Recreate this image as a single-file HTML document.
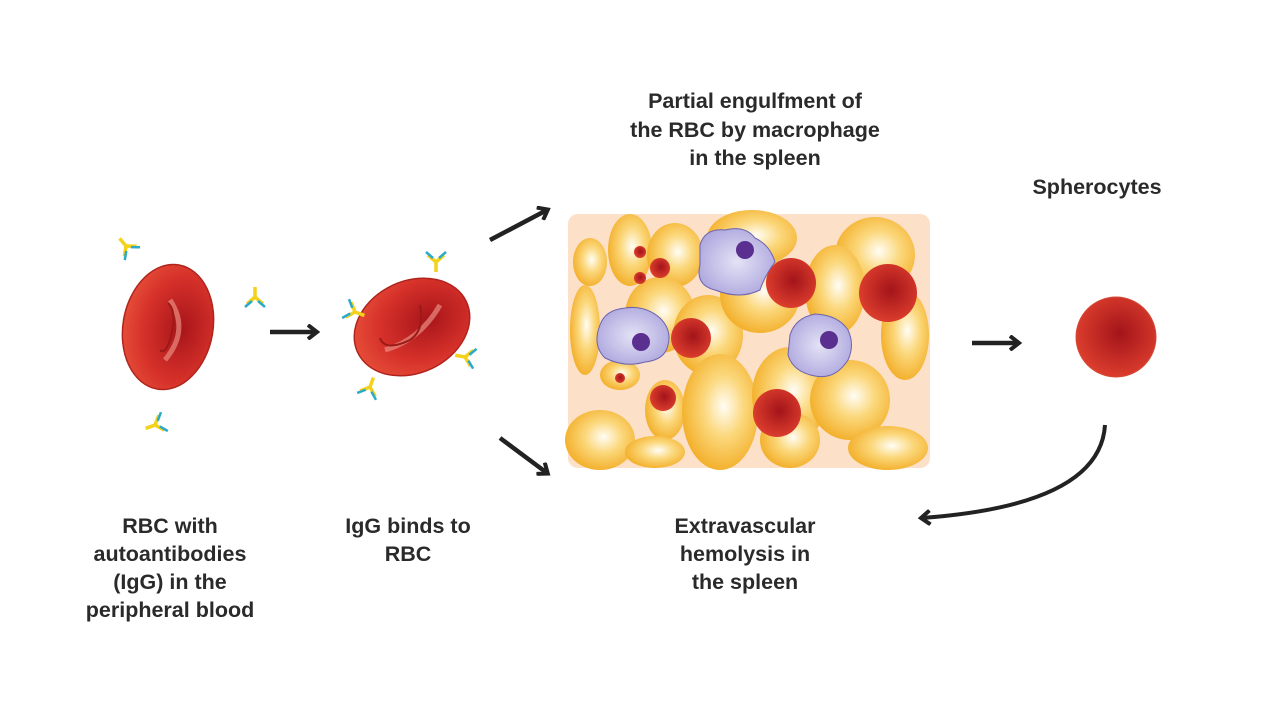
<!DOCTYPE html>
<html><head><meta charset="utf-8"><style>
html,body{margin:0;padding:0;background:#fff;}
svg{display:block}
text{font-family:"Liberation Sans",sans-serif;font-weight:bold;font-size:21.5px;fill:#2a2a2a;text-anchor:middle}
</style></head><body>
<svg width="1280" height="720" viewBox="0 0 1280 720">
<defs>
<radialGradient id="y" cx="0.55" cy="0.45" r="0.6"><stop offset="0" stop-color="#fffdf5"/><stop offset="0.45" stop-color="#fbd77a"/><stop offset="1" stop-color="#f2ab22"/></radialGradient>
<radialGradient id="r" cx="0.55" cy="0.45" r="0.6"><stop offset="0" stop-color="#a3141a"/><stop offset="1" stop-color="#e0402e"/></radialGradient>
<radialGradient id="rb" cx="0.65" cy="0.5" r="0.7"><stop offset="0" stop-color="#a8151a"/><stop offset="0.6" stop-color="#d6312a"/><stop offset="1" stop-color="#e8523a"/></radialGradient>
<radialGradient id="m" cx="0.5" cy="0.5" r="0.6"><stop offset="0" stop-color="#e4e2f6"/><stop offset="1" stop-color="#aaa4dc"/></radialGradient>
<marker id="ah" markerWidth="14" markerHeight="16" refX="9" refY="8" orient="auto" markerUnits="userSpaceOnUse"><path d="M1,1 L10,8 L1,15" fill="none" stroke="#222" stroke-width="4"/></marker>
<g id="ab"><path d="M0,0 L0,-10 M0,0 L-8,7 M0,0 L8,7" stroke="#f3d21b" stroke-width="3.5" fill="none"/><path d="M-3,4 L-10,10 M3,4 L10,10" stroke="#2aa9c9" stroke-width="2.5"/></g>
</defs>

<ellipse cx="168" cy="327" rx="45" ry="63" transform="rotate(10 168 327)" fill="url(#rb)" stroke="#b0241d" stroke-width="1.5"/>
<path d="M170,300 Q190,330 165,360" stroke="#e98a80" stroke-width="5" fill="none" opacity="0.7"/>
<path d="M168,303 Q178,312 170,340 Q165,355 160,350" stroke="#9b1a18" stroke-width="2" fill="none"/>
<use href="#ab" transform="translate(126,246) rotate(-40)"/>
<use href="#ab" transform="translate(255,297)"/>
<use href="#ab" transform="translate(155,425) rotate(-110)"/>

<line x1="270" y1="332" x2="316" y2="332" stroke="#222" stroke-width="4.5" marker-end="url(#ah)"/>

<ellipse cx="412" cy="327" rx="60" ry="46" transform="rotate(-25 412 327)" fill="url(#rb)" stroke="#b0241d" stroke-width="1.5"/>
<path d="M385,350 Q420,340 440,305" stroke="#e98a80" stroke-width="5" fill="none" opacity="0.7"/>
<path d="M380,338 Q385,352 410,340 Q425,330 420,305" stroke="#9b1a18" stroke-width="2" fill="none"/>
<use href="#ab" transform="translate(436,262) rotate(180)"/>
<use href="#ab" transform="translate(355,312) rotate(110)"/>
<use href="#ab" transform="translate(465,357) rotate(-80)"/>
<use href="#ab" transform="translate(370,387) rotate(20)"/>

<line x1="490" y1="240" x2="547" y2="210" stroke="#222" stroke-width="4.5" marker-end="url(#ah)"/>
<line x1="500" y1="438" x2="547" y2="473" stroke="#222" stroke-width="4.5" marker-end="url(#ah)"/>

<rect x="568" y="214" width="362" height="254" rx="10" fill="#fde0c8"/>
<g fill="url(#y)">
<ellipse cx="590" cy="262" rx="17" ry="24"/>
<ellipse cx="630" cy="250" rx="22" ry="36"/>
<ellipse cx="675" cy="255" rx="28" ry="32"/>
<ellipse cx="752" cy="238" rx="45" ry="28"/>
<ellipse cx="875" cy="255" rx="40" ry="38"/>
<ellipse cx="585" cy="330" rx="15" ry="45"/>
<ellipse cx="660" cy="315" rx="35" ry="38"/>
<ellipse cx="708" cy="335" rx="35" ry="40"/>
<ellipse cx="760" cy="295" rx="40" ry="38"/>
<ellipse cx="835" cy="290" rx="30" ry="45"/>
<ellipse cx="905" cy="335" rx="24" ry="45"/>
<ellipse cx="600" cy="440" rx="35" ry="30"/>
<ellipse cx="665" cy="410" rx="20" ry="30"/>
<ellipse cx="620" cy="375" rx="20" ry="15"/>
<ellipse cx="720" cy="412" rx="38" ry="58"/>
<ellipse cx="790" cy="395" rx="38" ry="48"/>
<ellipse cx="790" cy="440" rx="30" ry="28"/>
<ellipse cx="850" cy="400" rx="40" ry="40"/>
<ellipse cx="888" cy="448" rx="40" ry="22"/>
<ellipse cx="655" cy="452" rx="30" ry="16"/>
</g>
<g fill="url(#r)">
<circle cx="791" cy="283" r="25"/>
<circle cx="888" cy="293" r="29"/>
<circle cx="691" cy="338" r="20"/>
<circle cx="777" cy="413" r="24"/>
<circle cx="640" cy="252" r="6"/>
<circle cx="660" cy="268" r="10"/>
<circle cx="640" cy="278" r="6"/>
<circle cx="620" cy="378" r="5"/>
<circle cx="663" cy="398" r="13"/>
</g>
<g stroke="#6c63b0" stroke-width="1" fill="url(#m)">
<path d="M700,245 Q705,228 725,230 Q745,225 755,238 Q770,245 775,262 Q765,275 760,290 Q740,300 715,290 Q695,285 700,265 Z"/>
<path d="M600,325 Q605,310 625,308 Q645,305 660,318 Q672,330 668,345 Q665,360 645,362 Q625,368 605,358 Q592,345 600,325 Z"/>
<path d="M790,335 Q795,318 815,314 Q838,315 848,330 Q855,345 848,360 Q835,380 815,376 Q793,372 788,355 Z"/>
</g>
<g fill="#5b2f8f"><circle cx="745" cy="250" r="9"/><circle cx="641" cy="342" r="9"/><circle cx="829" cy="340" r="9"/></g>

<line x1="972" y1="343" x2="1018" y2="343" stroke="#222" stroke-width="4.5" marker-end="url(#ah)"/>
<circle cx="1116" cy="337" r="40" fill="url(#r)" stroke="#d64a38" stroke-width="1"/>
<path d="M1105,425 Q1100,505 922,518" stroke="#222" stroke-width="4" fill="none" marker-end="url(#ah)"/>

<text x="755" y="108">Partial engulfment of</text>
<text x="755" y="137">the RBC by macrophage</text>
<text x="755" y="165">in the spleen</text>
<text x="1097" y="194">Spherocytes</text>
<text x="170" y="533">RBC with</text>
<text x="170" y="561">autoantibodies</text>
<text x="170" y="589">(IgG) in the</text>
<text x="170" y="617">peripheral blood</text>
<text x="408" y="533">IgG binds to</text>
<text x="408" y="561">RBC</text>
<text x="745" y="533">Extravascular</text>
<text x="745" y="561">hemolysis in</text>
<text x="745" y="589">the spleen</text>
</svg>
</body></html>
